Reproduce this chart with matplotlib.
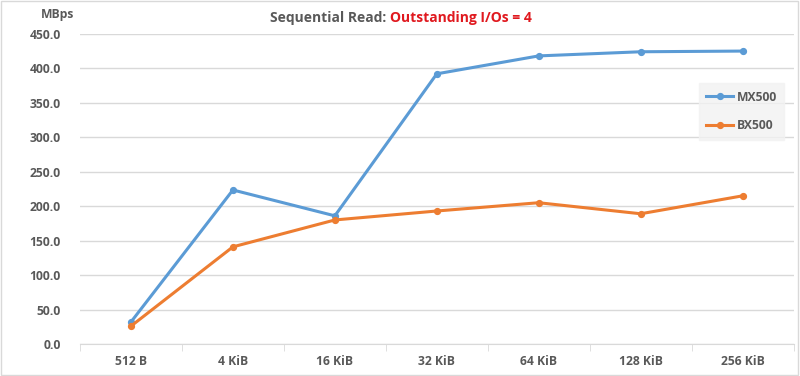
import matplotlib
matplotlib.use("Agg")
import matplotlib.pyplot as plt
import numpy as np

categories = ["512 B", "4 KiB", "16 KiB", "32 KiB", "64 KiB", "128 KiB", "256 KiB"]
mx500 = [32.0, 223.5, 186.0, 392.0, 418.0, 424.0, 425.0]
bx500 = [26.0, 141.0, 180.0, 193.0, 205.0, 189.0, 215.0]
yticks = [0, 50, 100, 150, 200, 250, 300, 350, 400, 450]

plt.rcParams['font.family'] = ['Open Sans', 'DejaVu Sans']
txt = '#595959'
fig = plt.figure(figsize=(8, 3.76), dpi=100)
ax = fig.add_axes([0.1, 0.085, 0.892, 0.825])
x = np.arange(len(categories))
ax.plot(x, mx500, color='#5B9BD5', lw=2.2, marker='o', ms=4.2, label='MX500')
ax.plot(x, bx500, color='#ED7D31', lw=2.2, marker='o', ms=4.2, label='BX500')
ax.set_xlim(-0.5, len(categories) - 0.5)
ax.set_ylim(0, 450)
ax.set_yticks(yticks)
ax.set_yticklabels([f"{v:.1f}" for v in yticks], fontsize=8.7, fontweight='bold', color=txt)
ax.set_xticks(x)
ax.set_xticklabels(categories, fontsize=8.7, fontweight='bold', color=txt)
ax.set_xticks(np.arange(len(categories) + 1) - 0.5, minor=True)
ax.tick_params(axis='x', which='major', length=0, pad=8)
ax.tick_params(axis='x', which='minor', length=5, color='#d9d9d9')
ax.tick_params(axis='y', length=0, pad=14)
ax.grid(axis='y', color='#d9d9d9', lw=1)
ax.set_axisbelow(True)
for s in ['top', 'right', 'left']:
    ax.spines[s].set_visible(False)
ax.spines['bottom'].set_color('#d9d9d9')
leg = ax.legend(loc='upper right', bbox_to_anchor=(0.995, 0.86), frameon=True, fancybox=False,
                facecolor='#f2f2f2', edgecolor='#f2f2f2', fontsize=8.7, handlelength=2.2,
                labelspacing=1.3, handletextpad=0.3, borderpad=0.6)
for t in leg.get_texts():
    t.set_color(txt)
    t.set_fontweight('bold')
fig.text(0.072, 0.962, "MBps", fontsize=8.7, fontweight='bold', color=txt, ha='center', va='center')
fig.text(0.487, 0.952, "Sequential Read: ", fontsize=10, fontweight='bold', color=txt, ha='right', va='center')
fig.text(0.487, 0.952, "Outstanding I/Os = 4", fontsize=10, fontweight='bold', color='#E0191F', ha='left', va='center')
fig.patches.append(plt.Rectangle((0.001, 0.002), 0.997, 0.995, transform=fig.transFigure,
                                 fill=False, edgecolor='#d9d9d9', lw=1))
fig.savefig("out.png", dpi=100)
